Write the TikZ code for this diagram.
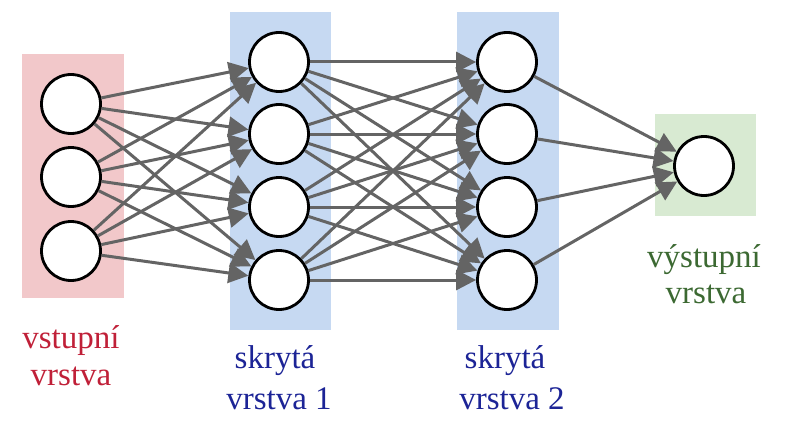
\documentclass[tikz,border=0pt]{standalone}
\usepackage{fontspec}
\setmainfont{Liberation Serif}
\usetikzlibrary{arrows.meta}
\definecolor{inbg}{RGB}{242,200,202}
\definecolor{hidbg}{RGB}{198,217,242}
\definecolor{outbg}{RGB}{216,234,210}
\definecolor{edgec}{RGB}{100,100,100}
\definecolor{inred}{RGB}{192,32,56}
\definecolor{hidblue}{RGB}{28,36,150}
\definecolor{outgreen}{RGB}{60,105,50}
\begin{document}
\begin{tikzpicture}[x=1pt,y=-1pt,
  neuron/.style={circle,draw=black,fill=white,line width=2.8pt,minimum size=59pt,inner sep=0pt},
  conn/.style={draw=edgec,line width=3pt,-{Triangle[length=20pt,width=20pt]}},
  lbl/.style={anchor=base,font=\fontsize{33}{38}\selectfont,inner sep=0pt}]
\useasboundingbox (0,0) rectangle (785,428);
% layer backgrounds
\fill[inbg] (22,54) rectangle (124,298);
\fill[hidbg] (230,12) rectangle (331,330);
\fill[hidbg] (457,12) rectangle (559,330);
\fill[outbg] (655,114) rectangle (756,216);
% neurons
\node[neuron] (i1) at (71,104) {};
\node[neuron] (i2) at (71,177) {};
\node[neuron] (i3) at (71,251) {};
\node[neuron] (a1) at (279,62) {};
\node[neuron] (a2) at (279,134) {};
\node[neuron] (a3) at (279,207) {};
\node[neuron] (a4) at (279,280) {};
\node[neuron] (b1) at (507,62) {};
\node[neuron] (b2) at (507,134) {};
\node[neuron] (b3) at (507,207) {};
\node[neuron] (b4) at (507,280) {};
\node[neuron] (o1) at (704,166) {};
% connections
\foreach \s in {i1,i2,i3}
  \foreach \t in {a1,a2,a3,a4}
    \draw[conn] (\s) -- (\t);
\foreach \s in {a1,a2,a3,a4}
  \foreach \t in {b1,b2,b3,b4}
    \draw[conn] (\s) -- (\t);
\foreach \s in {b1,b2,b3,b4}
  \draw[conn] (\s) -- (o1);
% labels
\node[lbl,text=inred] (li1) at (71,348) {vstupní};
\node[lbl,text=inred] (li2) at (71,385) {vrstva};
\node[lbl,text=hidblue] (la1) at (275,368) {skrytá};
\node[lbl,text=hidblue] (la2) at (279,409) {vrstva 1};
\node[lbl,text=hidblue] (lb1) at (505,368) {skrytá};
\node[lbl,text=hidblue] (lb2) at (512,409) {vrstva 2};
\node[lbl,text=outgreen] (lo1) at (704,267) {výstupní};
\node[lbl,text=outgreen] (lo2) at (706,303) {vrstva};
\end{tikzpicture}
\end{document}
